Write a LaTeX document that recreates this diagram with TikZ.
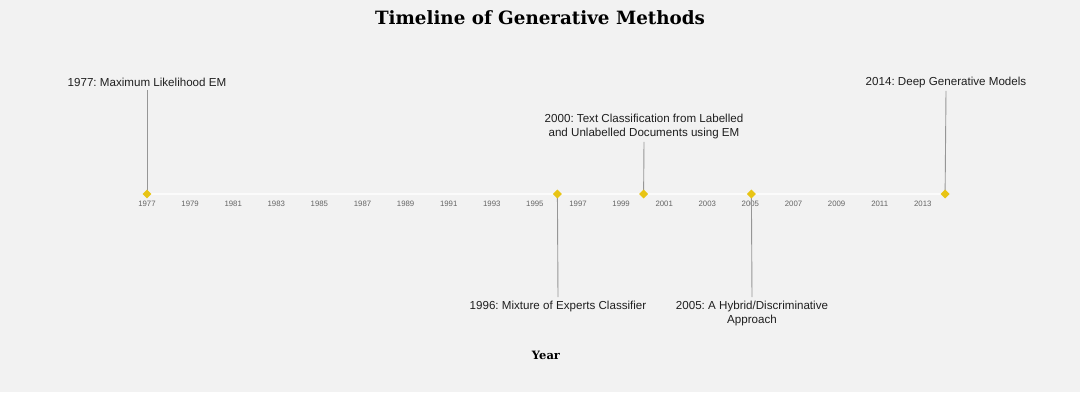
\documentclass[tikz,border=0pt]{standalone}
\usepackage{fontspec}
\setmainfont{Liberation Sans}
\newfontfamily\titlefont{DejaVu Serif}
\frenchspacing
\definecolor{tlbg}{RGB}{242,242,242}
\definecolor{tlgold}{RGB}{232,196,20}
\definecolor{tlgrey}{RGB}{150,150,150}
\definecolor{tltick}{RGB}{100,100,100}
\usetikzlibrary{shapes.geometric}

\begin{document}
\begin{tikzpicture}[x=1pt, y=-1pt,
        event/.style={align=center, font=\fontsize{11.6}{14}\selectfont, text=black!88},
        dot/.style={diamond, fill=tlgold, inner sep=0pt, minimum size=9pt},
        stem/.style={tlgrey, line width=0.9pt},
        yearlbl/.style={font=\fontsize{7.8}{8}\selectfont, text=tltick}
      ]
        \fill[tlbg] (0,0) rectangle (1080,392);
        \useasboundingbox (0,0) rectangle (1080,392);

        % title and axis name
        \node[font=\titlefont\bfseries\fontsize{18.3}{20}\selectfont] (title) at (540,18) {Timeline of Generative Methods};
        \node[font=\titlefont\bfseries\fontsize{11.5}{13}\selectfont] (xname) at (546,355) {Year};

        % axis with year ticks
        \draw[white!70!tlbg, line width=1.5pt] (147,194) -- (945,194);
        \foreach \yr in {1977,1979,...,2013}
          \node[yearlbl] (t\yr) at ({147+(\yr-1977)*21.55},204) {\yr};

        % events
        \node[event] (e77) at (147,82)  {1977: Maximum Likelihood EM};
        \node[event] (e96) at (558,306) {1996: Mixture of Experts Classifier};
        \node[event] (e00) at (644,126) {2000: Text Classification from Labelled\\and Unlabelled Documents using EM};
        \node[event] (e05) at (752,313) {2005: A Hybrid/Discriminative\\Approach};
        \node[event] (e14) at (946,82)  {2014: Deep Generative Models};

        \draw[stem] (e77.south) -- (147,194);
        \draw[stem] (e96.north) -- (557.4,194);
        \draw[stem] (e00.south) -- (643.6,194);
        \draw[stem] (e05.north) -- (751.4,194);
        \draw[stem] (e14.south) -- (945.1,194);

        \node[dot] (m77) at (147,194)   {};
        \node[dot] (m96) at (557.4,194) {};
        \node[dot] (m00) at (643.6,194) {};
        \node[dot] (m05) at (751.4,194) {};
        \node[dot] (m14) at (945.1,194) {};
      \end{tikzpicture}
\end{document}
